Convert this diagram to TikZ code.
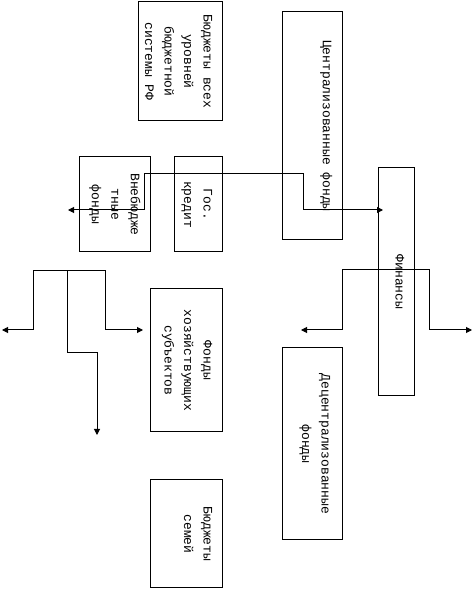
\documentclass[tikz,border=0pt]{standalone}
\usepackage{fontspec}
\setmainfont{Liberation Mono}
\usetikzlibrary{arrows.meta}
\begin{document}
\begin{tikzpicture}[x=1pt,y=1pt,
  box/.style={draw,line width=1pt,inner sep=0pt},
  lbl/.style={rotate=-90,anchor=north,align=center,inner sep=0pt,
              font=\fontsize{13}{19.5}\selectfont},
  conn/.style={line width=1pt},
  dbl/.style={{Triangle[length=6pt,width=6pt]}-{Triangle[length=6pt,width=6pt]}},
  sgl/.style={-{Triangle[length=6pt,width=6pt]}}]
\useasboundingbox (0,0) rectangle (475,614);
% boxes
\node[box,minimum width=84pt,minimum height=119pt] (bvse) at (180,552.5) {};
\node[box,minimum width=60pt,minimum height=228pt] (centr) at (312,488) {};
\node[box,minimum width=71pt,minimum height=95pt] (vneb) at (114.5,409.5) {};
\node[box,minimum width=48pt,minimum height=95pt] (gos) at (198,409.5) {};
\node[box,minimum width=72pt,minimum height=143pt] (fhs) at (186,253.5) {};
\node[box,minimum width=72pt,minimum height=108pt] (sem) at (186,80) {};
\node[box,minimum width=60pt,minimum height=192pt] (decentr) at (312,170) {};
\node[box,minimum width=36pt,minimum height=228pt] (fin) at (396,332) {};
% texts
\node[lbl] (tbvse) at ([xshift=-10pt]bvse.east) {Бюджеты всех\\уровней\\бюджетной\\системы РФ};
\node[lbl] (tcentr) at ([xshift=-10pt]centr.east) {Централизованные фонды};
\node[lbl] (tvneb) at ([xshift=-10pt]vneb.east) {Внебюдже\\тные\\фонды};
\node[lbl] (tgos) at ([xshift=-10pt]gos.east) {Гос.\\кредит};
\node[lbl] (tfhs) at ([xshift=-10pt]fhs.east) {Фонды\\хозяйствующих\\субъектов};
\node[lbl] (tsem) at ([xshift=-10pt]sem.east) {Бюджеты\\семей};
\node[lbl] (tdecentr) at ([xshift=-12pt]decentr.east) {Децентрализованные\\фонды};
\node[lbl] (tfin) at ([xshift=-10pt]fin.east) {Финансы};
% connector A
\coordinate (pA0) at (68,404);
\coordinate (pA1) at (144,404);
\coordinate (pA2) at (144,440);
\coordinate (pA3) at (303,440);
\coordinate (pA4) at (303,404);
\coordinate (pA5) at (383,404);
\draw[conn,dbl] (pA0) -- (pA1) -- (pA2) -- (pA3) -- (pA4) -- (pA5);
% connector B (right fork)
\coordinate (pB0) at (301,284);
\coordinate (pB1) at (342,284);
\coordinate (pB2) at (342,344);
\coordinate (pB3) at (429,344);
\coordinate (pB4) at (429,284);
\coordinate (pB5) at (472,284);
\draw[conn,dbl] (pB0) -- (pB1) -- (pB2) -- (pB3) -- (pB4) -- (pB5);
% connector C (left fork)
\coordinate (pC0) at (2,284);
\coordinate (pC1) at (33,284);
\coordinate (pC2) at (33,343);
\coordinate (pC3) at (105,343);
\coordinate (pC4) at (105,284);
\coordinate (pC5) at (143,284);
\draw[conn,dbl] (pC0) -- (pC1) -- (pC2) -- (pC3) -- (pC4) -- (pC5);
\coordinate (pD0) at (67,343);
\coordinate (pD1) at (67,261);
\coordinate (pD2) at (97,261);
\coordinate (pD3) at (97,179);
\draw[conn,sgl] (pD0) -- (pD1) -- (pD2) -- (pD3);
\end{tikzpicture}
\end{document}
